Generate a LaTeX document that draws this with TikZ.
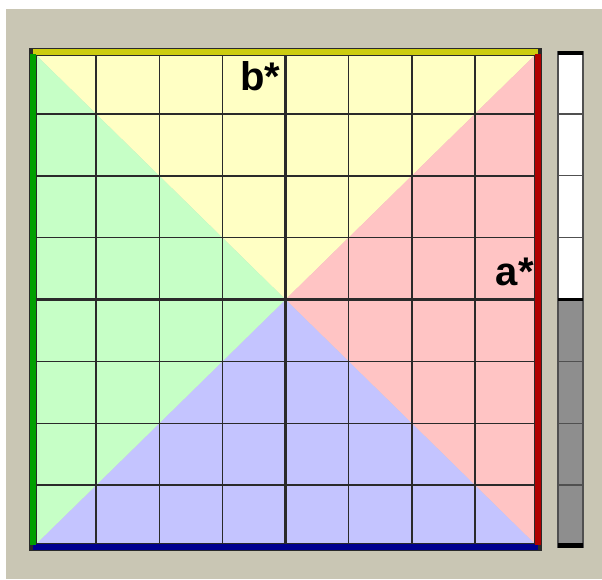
\documentclass[tikz,border=0pt]{standalone}
\usepackage{fontspec}
\setmainfont{Liberation Sans}
\usetikzlibrary{positioning}
\definecolor{PanelBack}{HTML}{C9C6B4}
\definecolor{GridDark}{HTML}{2A2A2A}
\definecolor{FillYellow}{HTML}{FFFFC4}
\definecolor{FillGreen}{HTML}{C6FFC6}
\definecolor{FillRed}{HTML}{FFC4C4}
\definecolor{FillBlue}{HTML}{C4C4FF}
\definecolor{EdgeYellow}{HTML}{CCCC10}
\definecolor{EdgeGreen}{HTML}{00A000}
\definecolor{EdgeRed}{HTML}{B00000}
\definecolor{EdgeBlue}{HTML}{000090}
\definecolor{BarGrey}{HTML}{8E8E8E}
\definecolor{BarEdge}{HTML}{505050}
\tikzset{gridline/.style={draw=GridDark,line width=1.5pt},
 axisline/.style={draw=GridDark,line width=2.6pt},
 edgeline/.style={line width=5.5pt},
 barline/.style={draw=BarEdge,line width=1.4pt},
 chartlabel/.style={font=\bfseries\fontsize{40}{40}\selectfont,inner sep=0pt}}
\begin{document}
\begin{tikzpicture}[x=1pt,y=-1pt]
\useasboundingbox (0,0) rectangle (602,579);
\fill[PanelBack] (6,9) rectangle (602,579);
% corners and centre of the colour plane
\coordinate (nw) at (33,52);
\coordinate (ne) at (538,52);
\coordinate (se) at (538,547);
\coordinate (sw) at (33,547);
\coordinate (c) at (285.5,299.5);
\fill[FillYellow] (nw)--(ne)--(c)--cycle;
\fill[FillRed] (ne)--(se)--(c)--cycle;
\fill[FillBlue] (se)--(sw)--(c)--cycle;
\fill[FillGreen] (sw)--(nw)--(c)--cycle;
% 8x8 grid, the middle lines are heavier
\foreach \i in {1,2,3,5,6,7}{
 \draw[gridline] (33+\i*63.125,52)--(33+\i*63.125,547);
 \draw[gridline] (33,52+\i*61.875)--(538,52+\i*61.875);
}
\draw[axisline] (c|-nw)--(c|-sw);
\draw[axisline] (c-|nw)--(c-|ne);
% coloured borders of the plane
\draw[GridDark,line width=8pt] (nw) rectangle (se);
\draw[edgeline,EdgeYellow] (nw)--(ne);
\draw[edgeline,EdgeBlue] (sw)--(se);
\draw[edgeline,EdgeGreen] ([yshift=-2pt]nw)--([yshift=2pt]sw);
\draw[edgeline,EdgeRed] ([yshift=-2pt]ne)--([yshift=2pt]se);
\node[chartlabel,anchor=base west] (bstar) at (240,90) {b*};
\node[chartlabel,anchor=base east] (astar) at (534,285) {a*};
% lightness bar
\coordinate (barnw) at (558,52);
\coordinate (barse) at (583,547);
\fill[white] (barnw) rectangle (583,299.5);
\fill[BarGrey] (558,299.5) rectangle (barse);
\foreach \i in {1,2,3,5,6,7}
 \draw[barline] (558,52+\i*61.875)--(583,52+\i*61.875);
\draw[barline] (barnw) rectangle (barse);
\draw[black,line width=3pt] (558,299.5)--(583,299.5);
\draw[black,line width=4pt] (558,53)--(583,53);
\draw[black,line width=5pt] (558,545)--(583,545);
\end{tikzpicture}
\end{document}
